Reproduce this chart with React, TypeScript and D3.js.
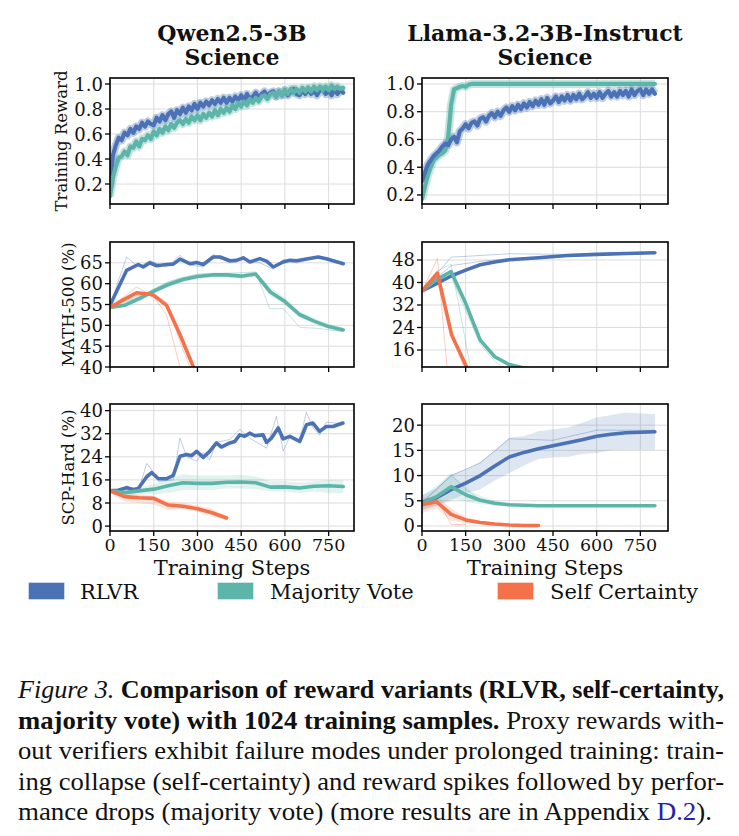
import React from "react";
import * as d3 from "d3";

const BLUE = "#4a72b5";
const TEAL = "#5cb5a8";
const ORANGE = "#f4714a";
const GRID = "#dcdcdc";
const SERIF = "DejaVu Serif, serif";
const CAPFONT = "Liberation Serif, DejaVu Serif Condensed, DejaVu Serif, serif";

const methods = ["RLVR", "Majority Vote", "Self Certainty"];
const methodColors = [BLUE, TEAL, ORANGE];
const xTickValues = [0, 150, 300, 450, 600, 750];
const modelTitles = ["Qwen2.5-3B", "Llama-3.2-3B-Instruct"];
const domainTitle = "Science";
const rowLabels = ["Training Reward", "MATH-500 (%)", "SCP-Hard (%)"];

// ---------- Training reward (every 10 steps) ----------
const rewardSteps = d3.range(0, 801, 10);
const qwenRewardRLVR = [
  0.18, 0.43, 0.51, 0.57, 0.55, 0.61, 0.59, 0.64, 0.61, 0.66,
  0.64, 0.69, 0.66, 0.70, 0.68, 0.67, 0.73, 0.70, 0.75, 0.71,
  0.76, 0.78, 0.73, 0.79, 0.76, 0.81, 0.77, 0.82, 0.79, 0.84,
  0.80, 0.85, 0.82, 0.86, 0.83, 0.87, 0.84, 0.88, 0.85, 0.89,
  0.85, 0.89, 0.86, 0.90, 0.87, 0.91, 0.87, 0.92, 0.88, 0.90,
  0.93, 0.89, 0.92, 0.94, 0.90, 0.93, 0.94, 0.90, 0.94, 0.91,
  0.95, 0.91, 0.94, 0.96, 0.92, 0.91, 0.95, 0.92, 0.96, 0.92,
  0.95, 0.91, 0.95, 0.96, 0.92, 0.95, 0.91, 0.96, 0.92, 0.95,
  0.93,
];
const qwenRewardMV = [
  0.10, 0.25, 0.34, 0.41, 0.42, 0.46, 0.43, 0.50, 0.49, 0.54,
  0.50, 0.56, 0.55, 0.59, 0.56, 0.62, 0.59, 0.64, 0.61, 0.66,
  0.63, 0.68, 0.65, 0.69, 0.71, 0.68, 0.72, 0.69, 0.74, 0.71,
  0.75, 0.71, 0.76, 0.73, 0.77, 0.74, 0.79, 0.75, 0.80, 0.77,
  0.81, 0.78, 0.83, 0.80, 0.85, 0.82, 0.86, 0.83, 0.88, 0.85,
  0.89, 0.86, 0.90, 0.91, 0.88, 0.92, 0.93, 0.90, 0.94, 0.91,
  0.95, 0.92, 0.96, 0.93, 0.96, 0.93, 0.97, 0.94, 0.97, 0.94,
  0.98, 0.95, 0.98, 0.95, 0.98, 0.95, 0.99, 0.96, 0.98, 0.96,
  0.97,
];
const llamaRewardRLVR = [
  0.30, 0.36, 0.42, 0.45, 0.48, 0.50, 0.52, 0.55, 0.57, 0.56,
  0.60, 0.62, 0.58, 0.66, 0.68, 0.71, 0.68, 0.72, 0.73, 0.70,
  0.75, 0.76, 0.73, 0.77, 0.79, 0.76, 0.80, 0.77, 0.81, 0.83,
  0.80, 0.84, 0.81, 0.85, 0.82, 0.86, 0.83, 0.87, 0.84, 0.88,
  0.85, 0.89, 0.85, 0.90, 0.86, 0.88, 0.91, 0.87, 0.91, 0.88,
  0.92, 0.88, 0.92, 0.89, 0.93, 0.89, 0.91, 0.94, 0.90, 0.93,
  0.90, 0.94, 0.90, 0.93, 0.95, 0.91, 0.94, 0.91, 0.95, 0.92,
  0.95, 0.91, 0.96, 0.92, 0.95, 0.96, 0.92, 0.96, 0.93, 0.96,
  0.93,
];
const llamaRewardMV = [
  0.17, 0.26, 0.34, 0.40, 0.45, 0.47, 0.49, 0.50, 0.52, 0.62,
  0.85, 0.96, 0.97, 0.98, 0.985, 0.98, 0.995, 1.0, 1.0, 1.0,
  1.0, 1.0, 1.0, 1.0, 1.0, 1.0, 1.0, 1.0, 1.0, 1.0,
  1.0, 1.0, 1.0, 1.0, 1.0, 1.0, 1.0, 1.0, 1.0, 1.0,
  1.0, 1.0, 1.0, 1.0, 1.0, 1.0, 1.0, 1.0, 1.0, 1.0,
  1.0, 1.0, 1.0, 1.0, 1.0, 1.0, 1.0, 1.0, 1.0, 1.0,
  1.0, 1.0, 1.0, 1.0, 1.0, 1.0, 1.0, 1.0, 1.0, 1.0,
  1.0, 1.0, 1.0, 1.0, 1.0, 1.0, 1.0, 1.0, 1.0, 1.0,
  1.0,
];

// ---------- MATH-500, Qwen ----------
const mlBlueX = [0, 57, 97, 114, 137, 160, 194, 217, 240, 274, 297, 320, 354, 377, 411, 434, 457, 480, 514, 537, 560, 594, 617, 640, 674, 714, 742, 800];
const mlBlueY = [54.8, 63.2, 64.6, 64.0, 65.0, 64.3, 64.6, 64.7, 65.9, 64.8, 65.1, 64.6, 66.4, 66.4, 65.5, 65.6, 66.2, 65.2, 66.0, 65.4, 64.0, 65.2, 65.6, 65.5, 65.9, 66.4, 66.0, 64.8];
const mlBlueFaintX = [0, 57, 97, 137, 194, 240, 274, 320, 354, 411, 457, 514, 560, 594, 640, 714, 800];
const mlBlueFaintY = [54.8, 66.4, 64.0, 65.5, 64.0, 66.8, 64.5, 64.0, 67.0, 65.0, 65.8, 65.0, 63.5, 65.8, 65.0, 66.4, 64.7];
const mlTealX = [0, 50, 100, 150, 200, 250, 300, 350, 400, 450, 500, 550, 600, 650, 700, 750, 800];
const mlTealY = [54.3, 54.8, 56.4, 58.2, 59.8, 61.0, 61.7, 62.1, 62.1, 61.8, 62.3, 58.0, 55.7, 52.6, 51.0, 49.7, 48.9];
const mlTealLo = [54.0, 54.3, 55.7, 57.5, 59.1, 60.3, 61.1, 61.5, 61.5, 61.2, 61.7, 57.0, 54.8, 51.8, 50.3, 49.1, 48.3];
const mlTealHi = [54.6, 55.3, 57.1, 58.9, 60.5, 61.7, 62.3, 62.7, 62.7, 62.4, 62.9, 59.0, 56.6, 53.4, 51.7, 50.3, 49.5];
const mlTealFaintX = [0, 100, 200, 300, 400, 500, 548, 594, 651, 708, 800];
const mlTealFaintY = [54.3, 56.8, 60.5, 62.3, 62.5, 62.8, 54.0, 54.0, 49.5, 49.3, 48.5];
const mlOrangeX = [0, 50, 91, 130, 150, 194, 240, 286, 320];
const mlOrangeY = [54.3, 56.3, 57.8, 57.5, 57.2, 54.8, 47.8, 40.0, 34.0];
const mlOrangeFaintAX = [0, 50, 91, 148, 194, 240, 270];
const mlOrangeFaintAY = [54.3, 57.0, 59.2, 57.0, 52.5, 40.0, 35.0];
const mlOrangeFaintBX = [0, 91, 148, 194, 240, 286];
const mlOrangeFaintBY = [54.3, 57.0, 57.8, 55.5, 46.0, 38.0];

// ---------- MATH-500, Llama ----------
const mrBlueX = [0, 50, 100, 150, 200, 250, 300, 400, 500, 600, 700, 800];
const mrBlueY = [37.0, 39.6, 42.3, 44.4, 46.3, 47.3, 48.1, 48.8, 49.6, 50.0, 50.3, 50.6];
const mrBlueFaintAX = [0, 100, 300, 500, 800];
const mrBlueFaintAY = [37.0, 49.0, 50.2, 50.0, 50.6];
const mrBlueFaintBX = [0, 100, 200, 300, 800];
const mrBlueFaintBY = [37.0, 46.0, 47.5, 48.5, 50.4];
const mrTealX = [0, 50, 100, 150, 200, 250, 300, 350, 400];
const mrTealY = [37.0, 41.0, 43.9, 32.6, 19.5, 13.6, 10.8, 9.6, 9.0];
const mrTealFaintAX = [0, 50, 100, 175];
const mrTealFaintAY = [37.0, 44.0, 46.5, 5.0];
const mrTealFaintBX = [0, 100, 150, 200, 250, 300];
const mrTealFaintBY = [37.0, 42.0, 30.0, 18.0, 12.0, 8.0];
const mrOrangeX = [0, 53, 102, 153, 200];
const mrOrangeY = [37.0, 43.3, 21.3, 10.0, 4.0];
const mrOrangeFaintAX = [0, 53, 90];
const mrOrangeFaintAY = [37.0, 48.5, 5.0];
const mrOrangeFaintBX = [0, 53, 102, 150];
const mrOrangeFaintBY = [37.0, 40.0, 22.0, 8.0];

// ---------- SCP-Hard, Qwen ----------
const blBlueX = [0, 28, 57, 80, 97, 126, 143, 166, 194, 217, 240, 263, 280, 297, 320, 342, 365, 382, 411, 428, 445, 462, 479, 497, 525, 537, 554, 577, 594, 617, 651, 674, 696, 719, 742, 765, 799];
const blBlueY = [12.2, 12.4, 13.3, 12.7, 13.0, 17.1, 18.5, 16.4, 16.4, 17.6, 24.2, 24.8, 24.4, 25.9, 23.8, 25.9, 28.8, 27.4, 28.8, 29.3, 31.6, 31.1, 32.2, 31.3, 31.6, 29.0, 30.5, 34.0, 30.2, 31.1, 29.3, 35.1, 35.7, 32.8, 34.5, 34.5, 35.7];
const blBlueFaintX = [0, 28, 57, 97, 126, 143, 166, 217, 240, 263, 297, 320, 342, 365, 411, 445, 479, 537, 571, 594, 617, 651, 674, 696, 719, 742, 799];
const blBlueFaintY = [12.2, 11.5, 14.0, 12.0, 21.7, 19.5, 15.5, 16.0, 30.5, 24.0, 22.5, 25.5, 23.0, 29.0, 30.0, 33.5, 30.5, 27.0, 38.0, 26.0, 31.0, 30.0, 39.5, 34.0, 31.5, 36.0, 35.5];
const blTealX = [0, 50, 100, 150, 200, 250, 300, 350, 400, 450, 500, 550, 600, 650, 700, 750, 800];
const blTealY = [12.2, 11.6, 12.2, 12.8, 14.0, 15.0, 14.8, 14.8, 15.2, 15.3, 15.0, 13.5, 13.6, 13.2, 13.8, 14.0, 13.7];
const blTealLo = [11.5, 10.5, 11.0, 11.0, 11.5, 12.5, 12.5, 12.5, 13.0, 13.0, 12.8, 12.0, 12.0, 11.5, 12.0, 11.5, 11.5];
const blTealHi = [13.0, 12.8, 13.5, 14.5, 16.5, 18.0, 17.5, 17.5, 17.5, 17.8, 17.2, 15.5, 15.5, 15.0, 15.5, 16.0, 15.8];
const blOrangeX = [0, 50, 100, 150, 200, 250, 300, 350, 400];
const blOrangeY = [12.2, 10.2, 9.8, 9.6, 7.3, 6.9, 6.0, 4.6, 2.8];
const blOrangeLo = [11.5, 8.5, 8.0, 7.5, 5.5, 6.0, 5.0, 3.5, 2.0];
const blOrangeHi = [13.0, 11.5, 11.0, 10.5, 8.5, 8.0, 7.2, 5.8, 3.5];

// ---------- SCP-Hard, Llama ----------
const brBlueX = [0, 50, 100, 150, 200, 250, 300, 350, 400, 450, 500, 550, 600, 650, 700, 750, 800];
const brBlueY = [4.7, 5.6, 7.2, 8.5, 10.0, 11.9, 13.7, 14.6, 15.3, 15.9, 16.5, 17.1, 17.8, 18.2, 18.5, 18.6, 18.7];
const brBlueLo = [3.2, 4.0, 5.0, 6.5, 7.3, 9.0, 10.5, 12.0, 13.3, 13.6, 13.7, 14.3, 14.5, 15.0, 15.1, 15.1, 15.1];
const brBlueHi = [6.0, 7.5, 10.2, 11.2, 12.7, 15.0, 17.5, 17.8, 18.8, 19.2, 19.5, 20.5, 21.5, 22.0, 22.5, 22.3, 22.2];
const brBlueFaintX = [0, 100, 200, 300, 450, 600, 800];
const brBlueFaintY = [4.7, 10.0, 12.5, 17.3, 17.0, 19.0, 19.0];
const brTealX = [0, 50, 100, 150, 200, 250, 300, 400, 500, 600, 700, 800];
const brTealY = [4.5, 5.8, 7.8, 6.2, 5.1, 4.5, 4.2, 4.0, 4.0, 4.0, 4.0, 4.0];
const brTealLo = [3.0, 4.0, 5.5, 4.8, 4.3, 4.0, 3.9, 3.8, 3.8, 3.8, 3.8, 3.8];
const brTealHi = [6.0, 8.0, 10.5, 7.5, 6.0, 5.0, 4.5, 4.2, 4.2, 4.2, 4.2, 4.2];
const brTealFaintX = [0, 100, 200, 300];
const brTealFaintY = [4.5, 10.0, 5.0, 4.2];
const brOrangeX = [0, 50, 100, 150, 200, 250, 300, 350, 400];
const brOrangeY = [4.2, 4.8, 2.3, 1.2, 0.7, 0.4, 0.2, 0.1, 0.1];
const brOrangeLo = [2.5, 3.5, 1.0, 0.6, 0.4, 0.2, 0.1, 0.0, 0.0];
const brOrangeHi = [5.5, 6.0, 3.5, 1.8, 1.0, 0.6, 0.3, 0.2, 0.2];
const brOrangeFaintX = [0, 50, 100, 150];
const brOrangeFaintY = [4.2, 5.5, 0.3, 0.3];

// ---------- Caption ----------
const captionLines = [
  [{ t: "Figure 3.", s: "italic" }, { t: " Comparison of reward variants (RLVR, self-certainty,", s: "bold" }],
  [{ t: "majority vote) with 1024 training samples.", s: "bold" }, { t: " Proxy rewards with-", s: "normal" }],
  [{ t: "out verifiers exhibit failure modes under prolonged training: train-", s: "normal" }],
  [{ t: "ing collapse (self-certainty) and reward spikes followed by perfor-", s: "normal" }],
  [{ t: "mance drops (majority vote) (more results are in Appendix ", s: "normal" }, { t: "D.2", s: "link" }, { t: ").", s: "normal" }],
];

type Line = { x: number[]; y: number[] };
type Series = { color: string; main: Line; lo?: number[]; hi?: number[]; faint?: Line[]; halo?: boolean };

interface PanelProps {
  id: string;
  left: number;
  top: number;
  width: number;
  height: number;
  xMax: number;
  yDomain: [number, number];
  yTicks: number[];
  yFmt: (v: number) => string;
  xLabels: boolean;
  ylabel?: string;
  ylabelX?: number;
  series: Series[];
  lineWidth: number;
}

function Panel(p: PanelProps) {
  const xs = d3.scaleLinear().domain([0, p.xMax]).range([p.left, p.left + p.width]);
  const ys = d3.scaleLinear().domain(p.yDomain).range([p.top + p.height, p.top]);
  const linePath = (l: Line) =>
    d3.line<number>().x((_, i) => xs(l.x[i])).y((v) => ys(v))(l.y) || "";
  const areaPath = (x: number[], lo: number[], hi: number[]) =>
    d3.area<number>().x((_, i) => xs(x[i])).y0((_, i) => ys(lo[i])).y1((v) => ys(v))(hi) || "";
  const bottom = p.top + p.height;
  const right = p.left + p.width;
  return (
    <g>
      <defs>
        <clipPath id={p.id}>
          <rect x={p.left} y={p.top} width={p.width} height={p.height} />
        </clipPath>
      </defs>
      {xTickValues.map((t) => (
        <line key={"gx" + t} x1={xs(t)} x2={xs(t)} y1={p.top} y2={bottom} stroke={GRID} strokeWidth={1} />
      ))}
      {p.yTicks.map((t) => (
        <line key={"gy" + t} x1={p.left} x2={right} y1={ys(t)} y2={ys(t)} stroke={GRID} strokeWidth={1} />
      ))}
      <g clipPath={`url(#${p.id})`}>
        {p.series.map((s, i) =>
          s.lo && s.hi ? (
            <path key={"b" + i} d={areaPath(s.main.x, s.lo, s.hi)} fill={s.color} fillOpacity={0.18} stroke="none" />
          ) : null
        )}
        {p.series.map((s, i) =>
          (s.faint || []).map((f, j) => (
            <path key={"f" + i + "-" + j} d={linePath(f)} fill="none" stroke={s.color} strokeOpacity={0.35} strokeWidth={1} />
          ))
        )}
        {p.series.map((s, i) =>
          s.halo ? (
            <path key={"h" + i} d={linePath(s.main)} fill="none" stroke={s.color} strokeOpacity={0.35} strokeWidth={p.lineWidth + 4} strokeLinejoin="round" />
          ) : null
        )}
        {p.series.map((s, i) => (
          <path key={"m" + i} d={linePath(s.main)} fill="none" stroke={s.color} strokeWidth={p.lineWidth} strokeLinejoin="round" strokeLinecap="round" />
        ))}
      </g>
      <rect x={p.left} y={p.top} width={p.width} height={p.height} fill="none" stroke="#000" strokeWidth={1.6} />
      {xTickValues.map((t) => (
        <line key={"tx" + t} x1={xs(t)} x2={xs(t)} y1={bottom} y2={bottom + 5} stroke="#000" strokeWidth={1.3} />
      ))}
      {p.yTicks.map((t) => (
        <line key={"ty" + t} x1={p.left - 5} x2={p.left} y1={ys(t)} y2={ys(t)} stroke="#000" strokeWidth={1.3} />
      ))}
      {p.yTicks.map((t) => (
        <text key={"ly" + t} x={p.left - 7} y={ys(t)} textAnchor="end" dominantBaseline="central" style={{ fontFamily: SERIF }} fontSize={18} fill="#111">
          {p.yFmt(t)}
        </text>
      ))}
      {p.xLabels &&
        xTickValues.map((t) => (
          <text key={"lx" + t} x={xs(t)} y={bottom + 20} textAnchor="middle" style={{ fontFamily: SERIF }} fontSize={17.5} fill="#111">
            {String(t)}
          </text>
        ))}
      {p.xLabels && (
        <text x={(p.left + right) / 2} y={bottom + 44} textAnchor="middle" style={{ fontFamily: SERIF }} fontSize={21} fill="#111">
          Training Steps
        </text>
      )}
      {p.ylabel && (
        <text
          transform={`translate(${p.ylabelX},${(p.top + bottom) / 2}) rotate(-90)`}
          textAnchor="middle"
          dominantBaseline="central"
          style={{ fontFamily: SERIF }}
          fontSize={16.5}
          fill="#111"
        >
          {p.ylabel}
        </text>
      )}
    </g>
  );
}

const f1 = (v: number) => d3.format(".1f")(v);
const f0 = (v: number) => String(v);

export default function App() {
  const L = { left: 110, width: 244 };
  const R = { left: 422, width: 246 };
  const rows = [
    { top: 78, height: 126 },
    { top: 242, height: 125 },
    { top: 404, height: 127 },
  ];

  const rewardTicks = [0.2, 0.4, 0.6, 0.8, 1.0];

  return (
    <svg width={739} height={836} style={{ position: "absolute", left: 0, top: 0, background: "#fff" }}>
      <rect x={0} y={0} width={739} height={836} fill="#fff" />
      {/* titles */}
      {[L, R].map((c, i) => (
        <g key={"title" + i}>
          <text x={c.left + c.width / 2} y={41} textAnchor="middle" style={{ fontFamily: SERIF }} fontWeight="bold" fontSize={22} fill="#111">
            {modelTitles[i]}
          </text>
          <text x={c.left + c.width / 2} y={65} textAnchor="middle" style={{ fontFamily: SERIF }} fontWeight="bold" fontSize={22} fill="#111">
            {domainTitle}
          </text>
        </g>
      ))}

      {/* Row 1: training reward */}
      <Panel
        id="c-tl" left={L.left} top={rows[0].top} width={L.width} height={rows[0].height}
        xMax={837} yDomain={[0.04, 1.048]} yTicks={rewardTicks} yFmt={f1} xLabels={false}
        ylabel={rowLabels[0]} ylabelX={61} lineWidth={4.2}
        series={[
          { color: BLUE, main: { x: rewardSteps, y: qwenRewardRLVR }, halo: true },
          { color: TEAL, main: { x: rewardSteps, y: qwenRewardMV }, halo: true },
        ]}
      />
      <Panel
        id="c-tr" left={R.left} top={rows[0].top} width={R.width} height={rows[0].height}
        xMax={845} yDomain={[0.135, 1.043]} yTicks={rewardTicks} yFmt={f1} xLabels={false}
        lineWidth={4.2}
        series={[
          { color: TEAL, main: { x: rewardSteps, y: llamaRewardMV }, halo: true },
          { color: BLUE, main: { x: rewardSteps, y: llamaRewardRLVR }, halo: true },
        ]}
      />

      {/* Row 2: MATH-500 */}
      <Panel
        id="c-ml" left={L.left} top={rows[1].top} width={L.width} height={rows[1].height}
        xMax={837} yDomain={[40, 70]} yTicks={[40, 45, 50, 55, 60, 65]} yFmt={f0} xLabels={false}
        ylabel={rowLabels[1]} ylabelX={68} lineWidth={3.6}
        series={[
          { color: BLUE, main: { x: mlBlueX, y: mlBlueY }, faint: [{ x: mlBlueFaintX, y: mlBlueFaintY }] },
          { color: TEAL, main: { x: mlTealX, y: mlTealY }, lo: mlTealLo, hi: mlTealHi, faint: [{ x: mlTealFaintX, y: mlTealFaintY }] },
          { color: ORANGE, main: { x: mlOrangeX, y: mlOrangeY }, faint: [{ x: mlOrangeFaintAX, y: mlOrangeFaintAY }, { x: mlOrangeFaintBX, y: mlOrangeFaintBY }] },
        ]}
      />
      <Panel
        id="c-mr" left={R.left} top={rows[1].top} width={R.width} height={rows[1].height}
        xMax={845} yDomain={[9.95, 54.4]} yTicks={[16, 24, 32, 40, 48]} yFmt={f0} xLabels={false}
        lineWidth={3.6}
        series={[
          { color: BLUE, main: { x: mrBlueX, y: mrBlueY }, faint: [{ x: mrBlueFaintAX, y: mrBlueFaintAY }, { x: mrBlueFaintBX, y: mrBlueFaintBY }] },
          { color: TEAL, main: { x: mrTealX, y: mrTealY }, faint: [{ x: mrTealFaintAX, y: mrTealFaintAY }, { x: mrTealFaintBX, y: mrTealFaintBY }] },
          { color: ORANGE, main: { x: mrOrangeX, y: mrOrangeY }, faint: [{ x: mrOrangeFaintAX, y: mrOrangeFaintAY }, { x: mrOrangeFaintBX, y: mrOrangeFaintBY }] },
        ]}
      />

      {/* Row 3: SCP-Hard */}
      <Panel
        id="c-bl" left={L.left} top={rows[2].top} width={L.width} height={rows[2].height}
        xMax={837} yDomain={[-1.7, 42.3]} yTicks={[0, 8, 16, 24, 32, 40]} yFmt={f0} xLabels={true}
        ylabel={rowLabels[2]} ylabelX={68} lineWidth={3.6}
        series={[
          { color: BLUE, main: { x: blBlueX, y: blBlueY }, faint: [{ x: blBlueFaintX, y: blBlueFaintY }] },
          { color: TEAL, main: { x: blTealX, y: blTealY }, lo: blTealLo, hi: blTealHi },
          { color: ORANGE, main: { x: blOrangeX, y: blOrangeY }, lo: blOrangeLo, hi: blOrangeHi },
        ]}
      />
      <Panel
        id="c-br" left={R.left} top={rows[2].top} width={R.width} height={rows[2].height}
        xMax={845} yDomain={[-1, 24.2]} yTicks={[0, 5, 10, 15, 20]} yFmt={f0} xLabels={true}
        lineWidth={3.6}
        series={[
          { color: BLUE, main: { x: brBlueX, y: brBlueY }, lo: brBlueLo, hi: brBlueHi, faint: [{ x: brBlueFaintX, y: brBlueFaintY }] },
          { color: TEAL, main: { x: brTealX, y: brTealY }, lo: brTealLo, hi: brTealHi, faint: [{ x: brTealFaintX, y: brTealFaintY }] },
          { color: ORANGE, main: { x: brOrangeX, y: brOrangeY }, lo: brOrangeLo, hi: brOrangeHi, faint: [{ x: brOrangeFaintX, y: brOrangeFaintY }] },
        ]}
      />

      {/* Legend */}
      {methods.map((m, i) => {
        const bx = [29, 218, 498][i];
        const tx = [80, 270, 550][i];
        return (
          <g key={"leg" + i}>
            <rect x={bx} y={583} width={35} height={16} fill={methodColors[i]} stroke={methodColors[i]} strokeOpacity={0.6} />
            <text x={tx} y={599} style={{ fontFamily: SERIF }} fontSize={21} fill="#111">
              {m}
            </text>
          </g>
        );
      })}

      {/* Caption */}
      {captionLines.map((ln, i) => {
        const y = 698 + i * 30.5;
        const len = i === 4 ? 694 : 706;
        return (
          <text
            key={"cap" + i}
            x={18}
            y={y}
            style={{ fontFamily: CAPFONT, fontStretch: "condensed" }}
            fontSize={25}
            fill="#111"
            textLength={len}
            lengthAdjust="spacingAndGlyphs"
          >
            {ln.map((seg, j) => (
              <tspan
                key={j}
                fontStyle={seg.s === "italic" ? "italic" : "normal"}
                fontWeight={seg.s === "bold" ? "bold" : "normal"}
                fill={seg.s === "link" ? "#2323a8" : "#111"}
              >
                {seg.t}
              </tspan>
            ))}
          </text>
        );
      })}
    </svg>
  );
}
